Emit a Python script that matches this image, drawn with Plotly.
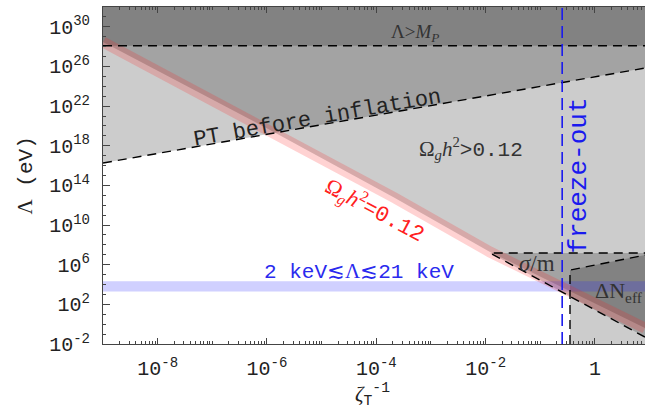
import plotly.graph_objects as go

# ---------------- data (log10 values) ----------------
x_range = [-9.0, 0.915]          # log10 of zeta_T^-1 shown
y_range = [-2.0, 32.0]           # log10 of Lambda / eV shown

# relic abundance line  Omega_g h^2 = 0.12
omega_logx = [-9.0, -5.91, -3.66, -1.92, 0.915]
omega_logL = [28.47, 19.49, 12.73, 7.28, -0.39]

# "PT before inflation" boundary
pt_logx = [-9.0, 0.915]
pt_logL = [16.26, 25.84]

# Planck scale  Lambda > M_P
mp_logL = 28.09

# sigma/m bound (top edge and lower diagonal edge)
sig_logx = [-1.92, 0.915]
sig_top_logL = [7.18, 7.18]
sig_bot_logL = [7.18, -1.30]

# Delta N_eff bound
dn_logx = [-0.457, 0.915]
dn_top_logL = [5.46, 6.97]

# freeze-out position
fo_logx = -0.60

# keV window (eV)
kev_band = [2.0e3, 2.1e4]

# tick labels
x_tick_exp = [-8, -6, -4, -2, 0]
x_tick_txt = ["10<sup>-8</sup>", "10<sup>-6</sup>", "10<sup>-4</sup>", "10<sup>-2</sup>", "1"]
y_tick_exp = [30, 26, 22, 18, 14, 10, 6, 2, -2]
y_tick_txt = ["10<sup>30</sup>", "10<sup>26</sup>", "10<sup>22</sup>", "10<sup>18</sup>",
              "10<sup>14</sup>", "10<sup>10</sup>", "10<sup>6</sup>", "10<sup>2</sup>",
              "10<sup>-2</sup>"]

# ---------------- helpers ----------------
def p10(v):
    return [10 ** a for a in v]

xmin, xmax = 10 ** x_range[0], 10 ** x_range[1]
ymin, ymax = 10 ** y_range[0], 10 ** y_range[1]

MONO = "Liberation Mono"
SERIF = "Liberation Serif"
GRAYFILL = "rgba(0,0,0,0.2)"
DASH = "9px,6px"

fig = go.Figure()

def poly(xs, ys, color=GRAYFILL):
    fig.add_trace(go.Scatter(x=xs, y=ys, mode="lines", fill="toself",
                             fillcolor=color, line=dict(width=0),
                             hoverinfo="skip", showlegend=False))

def dline(xs, ys, color="black", width=1.4, dash=DASH):
    fig.add_trace(go.Scatter(x=xs, y=ys, mode="lines",
                             line=dict(color=color, width=width, dash=dash),
                             hoverinfo="skip", showlegend=False))

# Omega_g h^2 > 0.12 region (above red line)
ox = p10(omega_logx)
oL = p10(omega_logL)
poly(ox + [xmax, xmin], oL + [ymax, ymax])

# PT before inflation region (above PT line)
px_ = p10(pt_logx)
pL = p10(pt_logL)
poly(px_ + [xmax, xmin], pL + [ymax, ymax])

# Lambda > M_P
poly([xmin, xmax, xmax, xmin], [10 ** mp_logL] * 2 + [ymax, ymax])

# sigma/m region
sx = p10(sig_logx)
poly(sx + sx[::-1], p10(sig_top_logL) + p10(sig_bot_logL)[::-1])

# Delta N_eff region
dx = p10(dn_logx)
poly([dx[0]] + dx + [dx[1]], [ymin] + p10(dn_top_logL) + [ymin])

# keV band
poly([xmin, xmax, xmax, xmin], [kev_band[0], kev_band[0], kev_band[1], kev_band[1]],
     color="rgba(40,40,255,0.22)")

# red relic line (thick translucent band)
fig.add_trace(go.Scatter(x=ox, y=oL, mode="lines",
                         line=dict(color="rgba(255,30,30,0.2)", width=11),
                         hoverinfo="skip", showlegend=False))

# dashed boundaries
dline([xmin, xmax], [10 ** mp_logL] * 2)
dline(px_, pL)
dline([sx[1], sx[0], sx[1]], [10 ** sig_bot_logL[1], 10 ** sig_top_logL[0], 10 ** sig_top_logL[1]])
dline([dx[0], dx[0], dx[1]], [ymin, 10 ** dn_top_logL[0], 10 ** dn_top_logL[1]])
dline([10 ** fo_logx] * 2, [ymin, ymax], color="#1a1aee", width=1.6, dash="12px,6px")

# ---------------- annotations ----------------
def ann(text, x, y, size=20, color="#333333", angle=0, family=MONO, xanchor="center"):
    fig.add_annotation(text=text, x=x, y=y, xref="x", yref="y", showarrow=False,
                       textangle=angle, xanchor=xanchor, yanchor="middle",
                       font=dict(family=family, size=size, color=color))

def serif(s):
    return '<span style="font-family:Liberation Serif">' + s + '</span>'

ann("Λ&gt;<i>M</i><sub><i>P</i></sub>", -3.29, 29.38, size=19, family=SERIF)
ann("PT before inflation", -5.07, 20.8, size=22, color="#222222", angle=-10)
ann(serif("Ω<sub><i>g</i></sub><i>h</i><sup>2</sup>") + "&gt;0.12", -2.27, 17.77, size=21)
ann(serif("Ω<sub><i>g</i></sub><i>h</i><sup>2</sup>") + "=0.12", -4.02, 11.6, size=22,
    color="#ff2020", angle=28)
ann("freeze-out", -0.31, 15.0, size=26, color="#1a1aee", angle=-90)
ann(serif("<i>σ</i>/m"), -1.06, 6.17, size=23, family=SERIF)
ann("ΔN<sub>eff</sub>", -0.04, 3.24, size=22, family=SERIF, xanchor="left")
ann("2 keV" + serif("≲Λ≲") + "21 keV", -4.32, 5.36, size=21, color="#2a2aee")

# axis titles
fig.add_annotation(text=serif("Λ") + " (eV)", xref="paper", yref="paper", x=0, y=0.5,
                   xanchor="center", yanchor="middle",
                   xshift=-78, showarrow=False, textangle=-90,
                   font=dict(family=MONO, size=21, color="#222222"))
fig.add_annotation(text=serif("<i>ζ</i>") + "<sub>T</sub><sup>-1</sup>", xref="paper",
                   yref="paper", x=0.497, y=0, xanchor="center", yanchor="middle",
                   yshift=-50, showarrow=False,
                   font=dict(family=MONO, size=21, color="#222222"))

# ---------------- axes ----------------
x_major = [10.0 ** e for e in range(-9, 1)]
x_minor = [k * 10.0 ** e for e in range(-9, 1) for k in range(2, 10)]
y_major = [10.0 ** e for e in y_tick_exp]
y_minor = [10.0 ** e for e in range(-2, 33)]

fig.update_xaxes(type="log", range=x_range, showgrid=False, zeroline=False,
                 automargin=False, ticklabelstandoff=6,
                 tickvals=[10.0 ** e for e in x_tick_exp], ticktext=x_tick_txt,
                 ticks="inside", ticklen=6, tickcolor="#444", tickwidth=1,
                 showline=True, linecolor="#444", linewidth=1, mirror="allticks",
                 tickfont=dict(family=MONO, size=20, color="#222222"),
                 minor=dict(tickvals=x_minor + x_major, ticks="inside", ticklen=3,
                            tickcolor="#444", showgrid=False))
fig.update_yaxes(type="log", range=y_range, showgrid=False, zeroline=False,
                 automargin=False, ticklabelstandoff=8,
                 tickvals=y_major, ticktext=y_tick_txt,
                 ticks="inside", ticklen=7, tickcolor="#444", tickwidth=1,
                 showline=True, linecolor="#444", linewidth=1, mirror=False,
                 tickfont=dict(family=MONO, size=20, color="#222222"),
                 minor=dict(tickvals=y_minor, ticks="inside", ticklen=3,
                            tickcolor="#444", showgrid=False))

fig.update_layout(width=645, height=409, margin=dict(l=103, r=0, t=7, b=65),
                  plot_bgcolor="white", paper_bgcolor="white", showlegend=False)

# remove the default page margin so the 645x409 figure fills the window exactly
fig.write_html("out.html",
               config={"displayModeBar": False},
               post_script="document.body.style.margin='0';"
                           "document.body.style.overflow='hidden';")
